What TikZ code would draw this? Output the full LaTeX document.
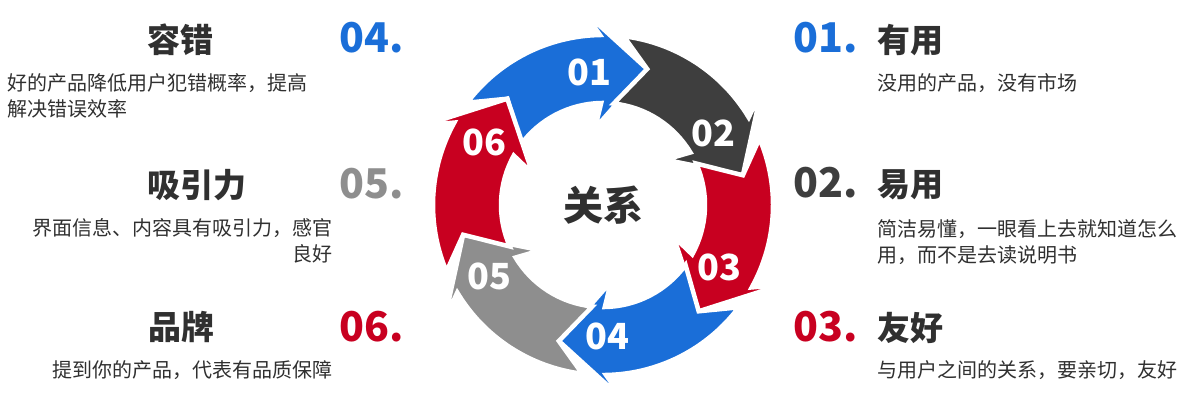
\documentclass[tikz,border=0pt]{standalone}
\usepackage{fontspec}
\setmainfont{Noto Sans CJK SC}
\usetikzlibrary{positioning,calc}

\definecolor{relblue}{RGB}{26,110,216}
\definecolor{reldark}{RGB}{62,62,62}
\definecolor{relred}{RGB}{200,0,32}
\definecolor{relgray}{RGB}{142,142,142}
\definecolor{reltext}{RGB}{48,48,48}

% one piece of the ring: #1 = angle of the tip, #2 = colour
\newcommand{\ringpiece}[2]{%
\filldraw [#2, draw=white, line width=4.5pt, line join=miter]
  ({#1+71}:170) arc [start angle={#1+71}, end angle={#1+19}, radius=170]
  -- ({#1+24}:196) -- (#1:143) -- ({#1+24}:77) -- ({#1+19}:102)
  arc [start angle={#1+19}, end angle={#1+72}, radius=102]
  -- ({#1+60}:143) -- cycle;}

\begin{document}
\begin{tikzpicture}[x=1pt,y=1pt,
  every node/.style={inner sep=0pt},
  title/.style={font=\fontsize{33}{40}\selectfont\bfseries, text=reltext},
  itemnum/.style={font=\fontsize{41}{48}\selectfont\bfseries},
  body/.style={font=\fontsize{20}{26}\selectfont, text=reltext},
  ringnum/.style={font=\fontsize{36}{40}\selectfont\bfseries, text=white}]
\useasboundingbox (0,0) rectangle (1193,-405);

% the ring
\begin{scope}[shift={(603,-205)}]
\ringpiece{72}{relblue}
\ringpiece{12}{reldark}
\ringpiece{-48}{relred}
\ringpiece{-108}{relblue}
\ringpiece{-168}{relgray}
\ringpiece{132}{relred}
\node [ringnum] (r01) at (96:133) {01};
\node [ringnum] (r02) at (33:132) {02};
\node [ringnum] (r03) at (-28:132) {03};
\node [ringnum] (r04) at (-88:132) {04};
\node [ringnum] (r05) at (-148:134) {05};
\node [ringnum] (r06) at (152:134) {06};
\node [font=\fontsize{40}{44}\selectfont\bfseries, text=reltext] (rel) at (0,0) {关系};
\end{scope}

% left column
\node [itemnum, text=relblue] (n04) at (372,-38) {04.};
\node [title] (t04) at (180,-40) {容错};
\node [body, anchor=north west, align=left] (b04) at (7,-73) {好的产品降低用户犯错概率，提高\\解决错误效率};
\node [itemnum, text=relgray] (n05) at (372,-184) {05.};
\node [title] (t05) at (197,-185) {吸引力};
\node [body, anchor=north east, align=right] (b05) at (333,-218) {界面信息、内容具有吸引力，感官\\良好};
\node [itemnum, text=relred] (n06) at (372,-327) {06.};
\node [title] (t06) at (181,-327) {品牌};
\node [body, anchor=east] (b06) at (333,-370) {提到你的产品，代表有品质保障};

% right column
\node [itemnum, text=relblue] (n01) at (826,-38) {01.};
\node [title] (t01) at (910,-40) {有用};
\node [body, anchor=west] (b01) at (877,-83) {没用的产品，没有市场};
\node [itemnum, text=reldark] (n02) at (826,-183) {02.};
\node [title] (t02) at (910,-185) {易用};
\node [body, anchor=north west, align=left] (b02) at (877,-219) {简洁易懂，一眼看上去就知道怎么\\用，而不是去读说明书};
\node [itemnum, text=relred] (n03) at (826,-327) {03.};
\node [title] (t03) at (910,-328) {友好};
\node [body, anchor=west] (b03) at (877,-370) {与用户之间的关系，要亲切，友好};
\end{tikzpicture}
\end{document}
